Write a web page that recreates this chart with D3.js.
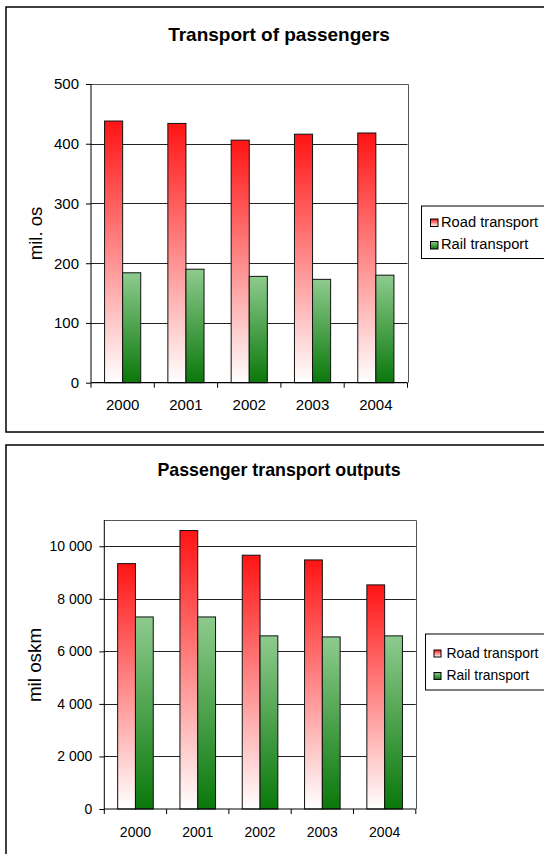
<!DOCTYPE html>
<html>
<head>
<meta charset="utf-8">
<script src="https://cdn.jsdelivr.net/npm/d3@7"></script>
<style>
  html, body { margin: 0; padding: 0; background: #fff; }
  svg { display: block; }
  text { font-family: "Liberation Sans", Arial, sans-serif; fill: #000; }
</style>
</head>
<body>
<svg id="chart" width="544" height="854"></svg>
<script>
// ---------------- data ----------------
const years = ["2000", "2001", "2002", "2003", "2004"];
const seriesNames = ["Road transport", "Rail transport"];

const title1 = "Transport of passengers";
const yLabel1 = "mil. os";
const road1 = [438, 434, 406, 416, 418];
const rail1 = [184, 190, 178, 173, 180];
const ticks1 = [0, 100, 200, 300, 400, 500];

const title2 = "Passenger transport outputs";
const yLabel2 = "mil oskm";
const road2 = [9340, 10600, 9660, 9480, 8530];
const rail2 = [7310, 7310, 6590, 6550, 6590];
const ticks2 = [0, 2000, 4000, 6000, 8000, 10000];

// ---------------- drawing ----------------
const svg = d3.select("#chart");
const defs = svg.append("defs");

function grad(id, top, bottom) {
  const g = defs.append("linearGradient").attr("id", id)
    .attr("x1", 0).attr("y1", 0).attr("x2", 0).attr("y2", 1);
  g.append("stop").attr("offset", "0%").attr("stop-color", top);
  g.append("stop").attr("offset", "100%").attr("stop-color", bottom);
}
grad("gRoad", "#ff1414", "#ffffff");
grad("gRail", "#8ecb8e", "#0a780a");
const fills = ["url(#gRoad)", "url(#gRail)"];

const spaceFmt = d3.formatLocale({ decimal: ",", thousands: "\u00a0", grouping: [3], currency: ["", ""] }).format(",d");

function drawChart(o) {
  const g = svg.append("g");
  // outer frame
  g.append("rect").attr("x", o.box[0]).attr("y", o.box[1])
    .attr("width", o.box[2] - o.box[0]).attr("height", o.box[3] - o.box[1])
    .attr("fill", "none").attr("stroke", "#000").attr("stroke-width", 1.5);

  const x0 = d3.scaleBand().domain(years).range([o.left, o.right]).padding(0);
  const step = x0.step();
  const bw = step / 3.5;
  const x1 = d3.scaleBand().domain(seriesNames).range([0, 2 * bw]).padding(0);
  const y = d3.scaleLinear().domain([0, o.max]).range([o.bottom, o.top]);

  // gridlines
  g.append("g").selectAll("line").data(o.ticks.filter(t => t > 0))
    .join("line")
    .attr("x1", o.left).attr("x2", o.right)
    .attr("y1", d => Math.round(y(d)) + 0.5).attr("y2", d => Math.round(y(d)) + 0.5)
    .attr("stroke", "#222").attr("stroke-width", 1);

  // plot border top & right
  g.append("path")
    .attr("d", `M${o.left},${Math.round(o.top) + 0.5}H${Math.round(o.right) + 0.5}V${o.bottom}`)
    .attr("fill", "none").attr("stroke", "#555").attr("stroke-width", 1);

  // bars
  const data = years.map((yr, i) => ({ yr, vals: [o.road[i], o.rail[i]] }));
  const grp = g.append("g").selectAll("g").data(data).join("g")
    .attr("transform", d => `translate(${x0(d.yr) + (step - 2 * bw) / 2},0)`);
  grp.selectAll("rect").data(d => d.vals.map((v, k) => ({ v, k })))
    .join("rect")
    .attr("x", d => x1(seriesNames[d.k]))
    .attr("width", x1.bandwidth())
    .attr("y", d => y(d.v))
    .attr("height", d => y(0) - y(d.v))
    .attr("fill", d => fills[d.k])
    .attr("stroke", "#111").attr("stroke-width", 1);

  // y axis
  const yAxis = d3.axisLeft(y).tickValues(o.ticks).tickSize(5).tickPadding(o.tickPad)
    .tickFormat(o.fmt);
  const ya = g.append("g").attr("transform", `translate(${o.left},0)`).call(yAxis);
  ya.select(".domain").remove();
  ya.append("line").attr("x1", 0).attr("x2", 0).attr("y1", o.top).attr("y2", o.bottom)
    .attr("stroke", "#000");
  ya.selectAll(".tick line").attr("stroke", "#000");
  ya.selectAll(".tick text").attr("font-size", o.tickFont)
    .attr("font-family", "Liberation Sans, Arial, sans-serif").attr("fill", "#000");

  // x axis line
  g.append("line").attr("x1", o.left).attr("x2", o.right)
    .attr("y1", o.bottom).attr("y2", o.bottom).attr("stroke", "#000").attr("stroke-width", 1.2);
  // category boundary ticks
  const bounds = years.map(d => x0(d)).concat([o.right]);
  g.append("g").selectAll("line").data(bounds).join("line")
    .attr("x1", d => d).attr("x2", d => d)
    .attr("y1", o.bottom).attr("y2", o.bottom + 5)
    .attr("stroke", "#000");
  // category labels
  g.append("g").selectAll("text").data(years).join("text")
    .attr("x", d => x0(d) + step / 2)
    .attr("y", o.bottom + o.xLabDy)
    .attr("text-anchor", "middle")
    .attr("font-size", o.tickFont)
    .text(d => d);

  // title
  g.append("text").attr("x", o.titleX).attr("y", o.titleY)
    .attr("text-anchor", "middle").attr("font-weight", "bold")
    .attr("font-size", o.titleFont).text(o.title);

  // y axis title
  g.append("text")
    .attr("transform", `translate(${o.yTitleX},${o.yTitleY}) rotate(-90)`)
    .attr("text-anchor", "middle").attr("font-size", o.yTitleFont)
    .text(o.yLabel);

  // legend
  const L = o.legend;
  g.append("rect").attr("x", L.x).attr("y", L.y).attr("width", 200).attr("height", L.h)
    .attr("fill", "#fff").attr("stroke", "#000").attr("stroke-width", 1);
  const li = g.append("g").selectAll("g").data(seriesNames).join("g")
    .attr("transform", (d, i) => `translate(${L.x},${L.firstBase + i * L.gap})`);
  li.append("rect").attr("x", L.mx).attr("y", -7.5).attr("width", L.ms).attr("height", L.ms)
    .attr("fill", (d, i) => fills[i]).attr("stroke", "#000").attr("stroke-width", 1);
  li.append("text").attr("x", L.tx).attr("y", 0).attr("font-size", L.font).text(d => d);
}

drawChart({
  box: [6, 7, 580, 432],
  left: 91, right: 407.5, top: 84, bottom: 382.7,
  max: 500, ticks: ticks1, road: road1, rail: rail1,
  fmt: d3.format("d"), tickPad: 7, tickFont: 15, xLabDy: 27.5,
  title: title1, titleX: 279, titleY: 40.5, titleFont: 19,
  yLabel: yLabel1, yTitleX: 42, yTitleY: 233.5, yTitleFont: 18.5,
  legend: { x: 421.5, y: 206, h: 52.5, firstBase: 226.5, gap: 22.5, mx: 9, ms: 7.5, tx: 19.5, font: 14.7 }
});

drawChart({
  box: [6, 445, 580, 900],
  left: 104.3, right: 415.8, top: 520, bottom: 809,
  max: 11000, ticks: ticks2, road: road2, rail: rail2,
  fmt: spaceFmt, tickPad: 7, tickFont: 14, xLabDy: 27.5,
  title: title2, titleX: 279, titleY: 476, titleFont: 17.8,
  yLabel: yLabel2, yTitleX: 41, yTitleY: 665, yTitleFont: 18.8,
  legend: { x: 425.5, y: 634, h: 56, firstBase: 657.5, gap: 22.5, mx: 8.5, ms: 7, tx: 21, font: 13.9 }
});
</script>
</body>
</html>
